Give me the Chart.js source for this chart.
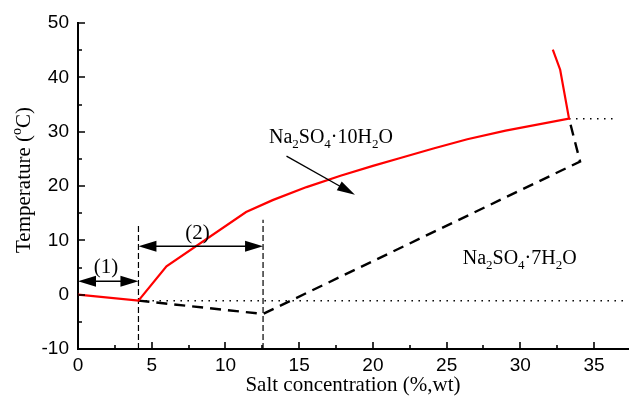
<!DOCTYPE html>
<html>
<head>
<meta charset="utf-8">
<script src="https://cdn.jsdelivr.net/npm/chart.js@4/dist/chart.umd.min.js"></script>
<style>
  html, body { margin: 0; padding: 0; background: #fff; }
  canvas { display: block; }
</style>
</head>
<body>
<canvas id="phase" width="630" height="404"></canvas>
<script>
// Axis tick values
const concTicks = [0, 5, 10, 15, 20, 25, 30, 35];
const tempTicks = [-10, 0, 10, 20, 30, 40, 50];

// Stable saturation curve: ice line, decahydrate solubility, anhydrous branch
const solubilityX = [0, 4.1, 6.0, 11.4, 13.2, 15.5, 17.8, 20.0, 21.8, 24.1, 26.4, 29.0, 33.3, 32.7, 32.2];
const solubilityY = [0, -1.1, 5.2, 15.2, 17.4, 19.8, 21.9, 23.7, 25.1, 26.9, 28.6, 30.2, 32.4, 41.4, 45.1];

// Metastable heptahydrate boundary
const heptaX = [4.1, 12.55, 34.05, 33.3];
const heptaY = [-1.1, -3.55, 24.5, 32.4];

// Eutectic and transition temperatures
const eutecticX = [4.1, 37.1];
const eutecticY = [-1.1, -1.1];
const transitionX = [33.3, 36.3];
const transitionY = [32.4, 32.4];

// Region borders (1) and (2)
const border1X = [4.1, 4.1];
const border1Y = [-10, 12.9];
const border2X = [12.55, 12.55];
const border2Y = [-10, 13.8];

const pts = (xs, ys) => xs.map((x, i) => ({ x, y: ys[i] }));

const serif = '"Liberation Serif", "Times New Roman", serif';
const sans = '"Liberation Sans", Arial, sans-serif';

// Annotations placed in data coordinates
const spanArrows = [
  { x0: 0, x1: 4.1, y: 2.45, label: '(1)', lx: 1.9, ly: 5.0 },
  { x0: 4.1, x1: 12.55, y: 8.9, label: '(2)', lx: 8.1, ly: 11.35 }
];
const phaseLabels = [
  { parts: [['Na'], ['2', 'sub'], ['SO'], ['4', 'sub'], ['\u00b710H'], ['2', 'sub'], ['O']], x: 12.95, y: 28.0 },
  { parts: [['Na'], ['2', 'sub'], ['SO'], ['4', 'sub'], ['\u00b77H'], ['2', 'sub'], ['O']], x: 26.09, y: 5.7 }
];
const pointer = { x0: 14.14, y0: 25.5, x1: 18.78, y1: 18.4 };

function partFont(kind, size) {
  return (kind ? Math.round(size * 0.65) : size) + 'px ' + serif;
}
function richWidth(ctx, parts, size) {
  let w = 0;
  parts.forEach(([t, k]) => { ctx.font = partFont(k, size); w += ctx.measureText(t).width; });
  return w;
}
function drawRich(ctx, parts, x, y, size) {
  let cx = x;
  ctx.textBaseline = 'alphabetic';
  ctx.textAlign = 'left';
  parts.forEach(([t, k]) => {
    ctx.font = partFont(k, size);
    const dy = k === 'sub' ? size * 0.28 : k === 'sup' ? -size * 0.42 : 0;
    ctx.fillText(t, cx, y + dy);
    cx += ctx.measureText(t).width;
  });
}
function head(ctx, tx, ty, fx, fy, len, half) {
  const a = Math.atan2(ty - fy, tx - fx);
  const bx = tx - len * Math.cos(a), by = ty - len * Math.sin(a);
  ctx.beginPath();
  ctx.moveTo(tx, ty);
  ctx.lineTo(bx + half * Math.sin(a), by - half * Math.cos(a));
  ctx.lineTo(bx - half * Math.sin(a), by + half * Math.cos(a));
  ctx.closePath();
  ctx.fill();
}

const overlay = {
  id: 'overlay',
  afterDatasetsDraw(chart) {
    const { ctx, chartArea: a } = chart;
    const xs = chart.scales.x, ys = chart.scales.y;
    ctx.save();
    ctx.strokeStyle = '#000';
    ctx.fillStyle = '#000';

    // inward major and minor tick marks
    ctx.lineWidth = 1.6;
    ctx.beginPath();
    for (let i = 0; i * 2.5 <= xs.max; i++) {
      const px = Math.round(xs.getPixelForValue(i * 2.5));
      ctx.moveTo(px, a.bottom);
      ctx.lineTo(px, a.bottom - (i % 2 === 0 ? 7 : 4));
    }
    for (let i = 0; -10 + i * 5 <= ys.max; i++) {
      const py = Math.round(ys.getPixelForValue(-10 + i * 5));
      ctx.moveTo(a.left, py);
      ctx.lineTo(a.left + (i % 2 === 0 ? 7 : 4), py);
    }
    ctx.stroke();

    // double-headed span arrows with region numbers
    spanArrows.forEach(s => {
      const p0 = xs.getPixelForValue(s.x0), p1 = xs.getPixelForValue(s.x1);
      const py = ys.getPixelForValue(s.y);
      ctx.lineWidth = 1.5;
      ctx.beginPath();
      ctx.moveTo(p0 + 10, py);
      ctx.lineTo(p1 - 10, py);
      ctx.stroke();
      head(ctx, p0, py, p1, py, 18, 5.5);
      head(ctx, p1, py, p0, py, 18, 5.5);
      ctx.font = '21px ' + serif;
      ctx.textAlign = 'center';
      ctx.textBaseline = 'middle';
      ctx.fillText(s.label, xs.getPixelForValue(s.lx), ys.getPixelForValue(s.ly));
    });

    // pointer to the decahydrate field
    const ax = xs.getPixelForValue(pointer.x0), ay = ys.getPixelForValue(pointer.y0);
    const bx = xs.getPixelForValue(pointer.x1), by = ys.getPixelForValue(pointer.y1);
    const d = Math.hypot(bx - ax, by - ay);
    ctx.lineWidth = 1.3;
    ctx.beginPath();
    ctx.moveTo(ax, ay);
    ctx.lineTo(bx - 10 * (bx - ax) / d, by - 10 * (by - ay) / d);
    ctx.stroke();
    head(ctx, bx, by, ax, ay, 18, 5);

    // hydrate field names
    phaseLabels.forEach(l => {
      drawRich(ctx, l.parts, xs.getPixelForValue(l.x), ys.getPixelForValue(l.y), 20);
    });

    // vertical axis title with superscript degree
    const yTitle = [['Temperature ('], ['o', 'sup'], ['C)']];
    ctx.translate(30, (a.top + a.bottom) / 2 - 6);
    ctx.rotate(-Math.PI / 2);
    const w = richWidth(ctx, yTitle, 21);
    drawRich(ctx, yTitle, -w / 2, 0, 21);
    ctx.restore();
  }
};

const lineSet = (data, color, width, dash) => ({
  data, showLine: true, borderColor: color, backgroundColor: color,
  borderWidth: width, borderDash: dash, pointRadius: 0, tension: 0, fill: false
});

new Chart(document.getElementById('phase'), {
  type: 'scatter',
  data: {
    datasets: [
      lineSet(pts(solubilityX, solubilityY), '#ff0000', 2.2, []),
      lineSet(pts(heptaX, heptaY), '#000', 2.4, [11, 7]),
      lineSet(pts(eutecticX, eutecticY), '#000', 1.5, [1.5, 5.5]),
      lineSet(pts(transitionX, transitionY), '#000', 1.5, [1.5, 5.5]),
      lineSet(pts(border1X, border1Y), '#000', 1.2, [6, 3]),
      lineSet(pts(border2X, border2Y), '#000', 1.2, [6, 3])
    ]
  },
  options: {
    responsive: false,
    animation: false,
    events: [],
    layout: { padding: { top: 23, right: 2, left: 0, bottom: 0 } },
    plugins: { legend: { display: false }, tooltip: { enabled: false } },
    scales: {
      x: {
        type: 'linear', min: 0, max: 37.3,
        afterBuildTicks: s => { s.ticks = concTicks.map(v => ({ value: v })); },
        afterFit: s => { s.height = 55; },
        grid: { display: false, drawTicks: false },
        border: { display: true, color: '#000', width: 2 },
        ticks: { color: '#000', font: { family: sans, size: 19 }, padding: 5, maxRotation: 0 },
        title: { display: true, text: 'Salt concentration (%,wt)', color: '#000',
                 font: { family: serif, size: 21 }, padding: 6 }
      },
      y: {
        type: 'linear', min: -10, max: 50,
        afterBuildTicks: s => { s.ticks = tempTicks.map(v => ({ value: v })); },
        afterFit: s => { s.width = 78; },
        grid: { display: false, drawTicks: false },
        border: { display: true, color: '#000', width: 2 },
        ticks: { color: '#000', font: { family: sans, size: 19 }, padding: 9 }
      }
    }
  },
  plugins: [overlay]
});
</script>
</body>
</html>
